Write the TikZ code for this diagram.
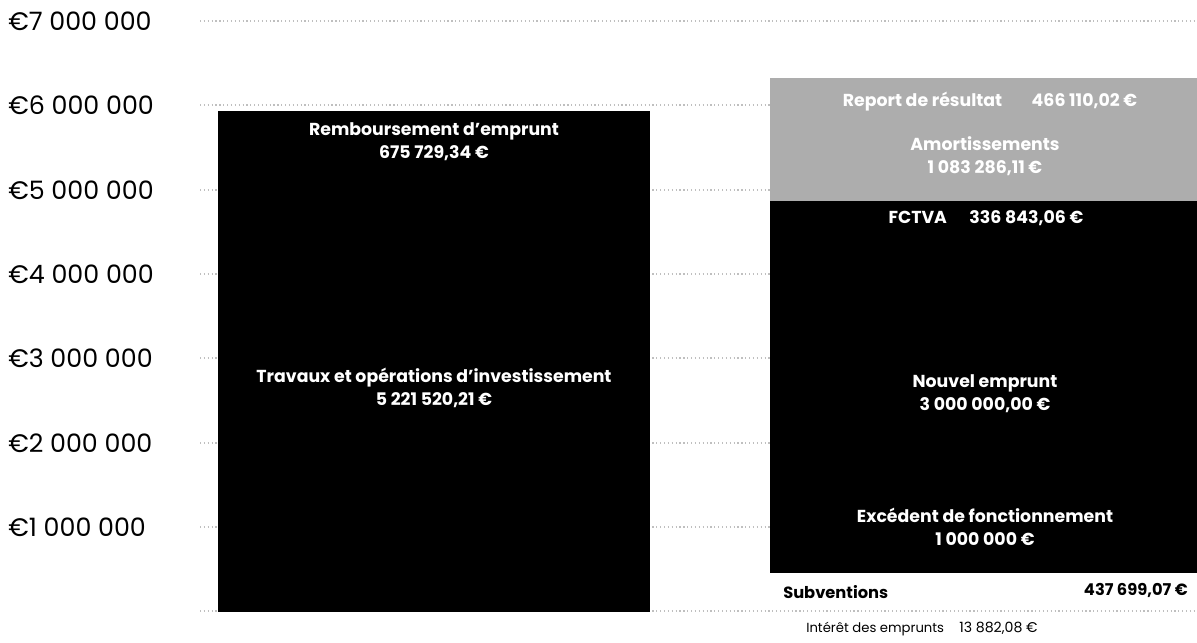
\documentclass[tikz,border=0pt]{standalone}
\usepackage{fontspec}
\setmainfont{Poppins}
\tikzset{
  gridline/.style={draw=gray!50, dotted, line width=0.9pt},
  axislabel/.style={anchor=west, inner sep=0pt, font=\fontsize{19}{19}\selectfont},
  barlabel/.style={text=white, align=center, inner sep=0pt, font=\bfseries\fontsize{13}{17.5}\selectfont},
  darkbar/.style={fill=black},
  lightbar/.style={fill=black!32},
  sidelabel/.style={inner sep=0pt, font=\bfseries\fontsize{12.2}{14}\selectfont},
  smalllabel/.style={inner sep=0pt, font=\fontsize{9.9}{12}\selectfont}
}
\begin{document}
\begin{tikzpicture}[x=0.75pt,y=-0.75pt]
\useasboundingbox[fill=white] (0,0) rectangle (1197,643);
% grid
\foreach \yy in {21,105,190,274,358,443,527,611}
  \draw[gridline] (200,\yy) -- (1197,\yy);
% axis labels
\node[axislabel] (l7) at (8,21) {€7 000 000};
\node[axislabel] (l6) at (8,105) {€6 000 000};
\node[axislabel] (l5) at (8,190) {€5 000 000};
\node[axislabel] (l4) at (8,274) {€4 000 000};
\node[axislabel] (l3) at (8,358) {€3 000 000};
\node[axislabel] (l2) at (8,443) {€2 000 000};
\node[axislabel] (l1) at (8,527) {€1 000 000};
% left bar
\fill[darkbar] (218,111) rectangle (650,612);
\node[barlabel] (remb) at (434,142) {Remboursement d'emprunt\\675 729,34 €};
\node[barlabel] (trav) at (434,388) {Travaux et opérations d'investissement\\5 221 520,21 €};
% right bar
\fill[lightbar] (770,78) rectangle (1197,201);
\fill[darkbar] (770,201) rectangle (1197,573);
\node[barlabel] (report) at (990,102) {Report de résultat\hspace{1.7em}466 110,02 €};
\node[barlabel] (amort) at (985,156) {Amortissements\\1 083 286,11 €};
\node[barlabel] (fctva) at (986,218) {FCTVA\hspace{1.3em}336 843,06 €};
\node[barlabel] (nouvel) at (985,394) {Nouvel emprunt\\3 000 000,00 €};
\node[barlabel] (exced) at (985,527) {Excédent de fonctionnement\\1 000 000 €};
% below
\node[sidelabel, anchor=west] (subv) at (783,592) {Subventions};
\node[sidelabel, anchor=east] (subvv) at (1188,590) {437 699,07 €};
\node[smalllabel, anchor=west] (int) at (806,629) {Intérêt des emprunts};
\node[smalllabel, anchor=west, font=\fontsize{10.6}{12}\selectfont] (intv) at (959,628) {13 882,08 €};
\end{tikzpicture}
\end{document}
